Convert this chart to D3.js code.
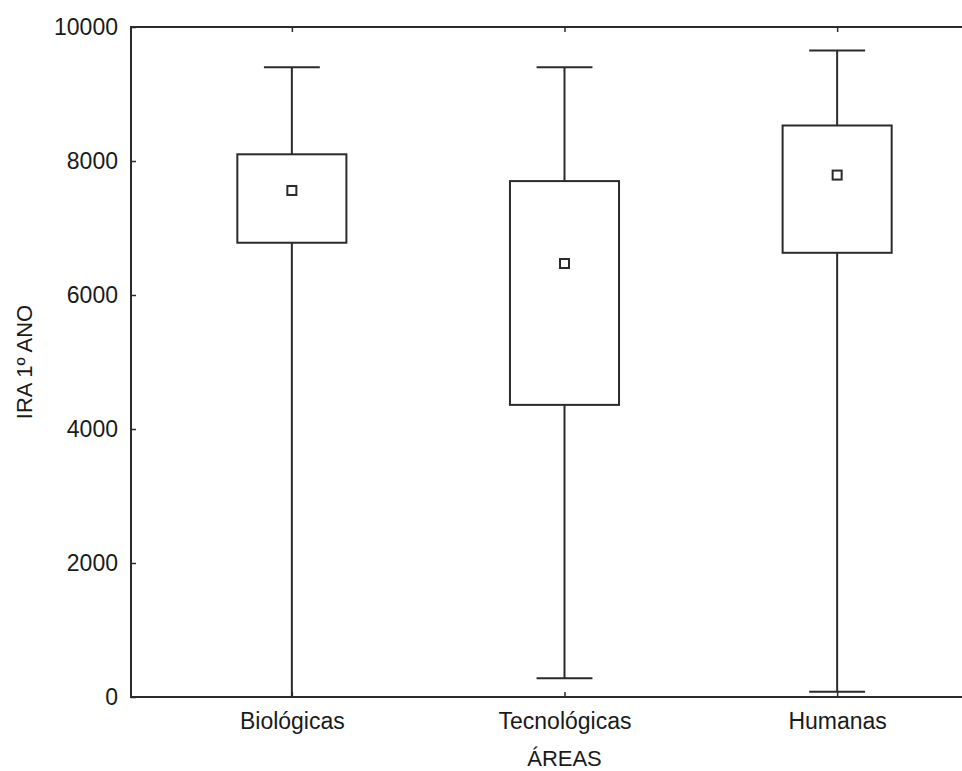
<!DOCTYPE html>
<html>
<head>
<meta charset="utf-8">
<script src="https://cdn.jsdelivr.net/npm/d3@7"></script>
<style>
  body { margin: 0; background: #fff; }
  text { font-family: "Liberation Sans", Arial, sans-serif; fill: #1a1a1a; }
</style>
</head>
<body>
<div id="chart"></div>
<script>
// box plot data per area
const areas = ["Biológicas", "Tecnológicas", "Humanas"];
const whiskerMin = [0, 280, 80];
const boxLow = [6780, 4360, 6630];
const means = [7560, 6470, 7790];
const boxHigh = [8100, 7700, 8530];
const whiskerMax = [9400, 9400, 9650];
const yTicks = [0, 2000, 4000, 6000, 8000, 10000];

const width = 962, height = 771;
const margin = { top: 27, left: 131, bottom: 74, right: -36 };
const stroke = "#2b2b2b";

const svg = d3.select("#chart").append("svg")
  .attr("width", width)
  .attr("height", height);

const x = d3.scalePoint()
  .domain(areas)
  .range([margin.left, width - margin.right])
  .padding(0.59);

const y = d3.scaleLinear()
  .domain([0, 10000])
  .range([height - margin.bottom, margin.top]);

const step = x.step();
const boxW = step * 0.4;
const capW = step * 0.205;

const rows = areas.map((a, i) => ({
  area: a, min: whiskerMin[i], q1: boxLow[i], mean: means[i], q3: boxHigh[i], max: whiskerMax[i]
}));

// axes with inward ticks
const yAxis = d3.axisLeft(y).tickValues(yTicks).tickSize(-5).tickPadding(13).tickFormat(d3.format("d"));
const gy = svg.append("g").attr("transform", `translate(${margin.left},0)`).call(yAxis);
gy.select(".domain").remove();
gy.selectAll("line").attr("stroke", stroke).attr("stroke-width", 1.5);
gy.selectAll("text").attr("font-size", 23).attr("fill", "#1a1a1a");

const xAxis = d3.axisBottom(x).tickSize(-5).tickPadding(16);
const gx = svg.append("g").attr("transform", `translate(0,${y(0)})`).call(xAxis);
gx.select(".domain").remove();
gx.selectAll("line").attr("stroke", stroke).attr("stroke-width", 1.5);
gx.selectAll("text").attr("font-size", 23).attr("fill", "#1a1a1a");

const xTop = d3.axisTop(x).tickSize(-5).tickFormat("");
const gt = svg.append("g").attr("transform", `translate(0,${y(10000)})`).call(xTop);
gt.select(".domain").remove();
gt.selectAll("line").attr("stroke", stroke).attr("stroke-width", 1.5);

// plot frame
svg.append("rect")
  .attr("x", margin.left)
  .attr("y", y(10000))
  .attr("width", x.range()[1] - margin.left)
  .attr("height", y(0) - y(10000))
  .attr("fill", "none")
  .attr("stroke", stroke)
  .attr("stroke-width", 2);

const g = svg.append("g").attr("stroke", stroke).attr("stroke-width", 2);

const box = g.selectAll("g.box")
  .data(rows)
  .enter()
  .append("g")
  .attr("class", "box");

// whiskers
box.append("line")
  .attr("x1", d => x(d.area)).attr("x2", d => x(d.area))
  .attr("y1", d => y(d.max)).attr("y2", d => y(d.q3));
box.append("line")
  .attr("x1", d => x(d.area)).attr("x2", d => x(d.area))
  .attr("y1", d => y(d.q1)).attr("y2", d => y(d.min));
box.append("line")
  .attr("x1", d => x(d.area) - capW / 2).attr("x2", d => x(d.area) + capW / 2)
  .attr("y1", d => y(d.max)).attr("y2", d => y(d.max));
box.append("line")
  .attr("x1", d => x(d.area) - capW / 2).attr("x2", d => x(d.area) + capW / 2)
  .attr("y1", d => y(d.min)).attr("y2", d => y(d.min));

// boxes
box.append("rect")
  .attr("x", d => x(d.area) - boxW / 2)
  .attr("width", boxW)
  .attr("y", d => y(d.q3))
  .attr("height", d => y(d.q1) - y(d.q3))
  .attr("fill", "#fff");

// mean markers
box.append("rect")
  .attr("x", d => x(d.area) - 4.5)
  .attr("y", d => y(d.mean) - 4.5)
  .attr("width", 9)
  .attr("height", 9)
  .attr("fill", "#fff");

// axis titles
svg.append("text")
  .attr("x", (margin.left + x.range()[1]) / 2)
  .attr("y", 766)
  .attr("text-anchor", "middle")
  .attr("font-size", 22)
  .text("ÁREAS");

svg.append("text")
  .attr("transform", `translate(32,${(y(0) + y(10000)) / 2}) rotate(-90)`)
  .attr("text-anchor", "middle")
  .attr("font-size", 22)
  .text("IRA 1º ANO");
</script>
</body>
</html>
